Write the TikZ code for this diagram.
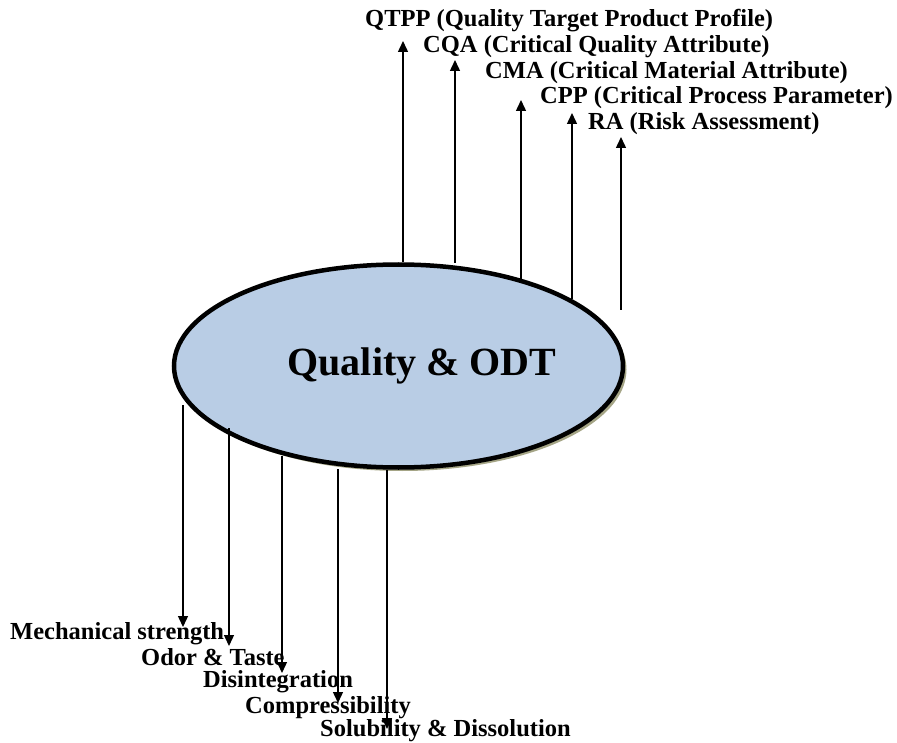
\documentclass[tikz,border=0pt]{standalone}
\usepackage{fontspec}
\setmainfont{Liberation Serif}
\usepackage{xcolor}
\usetikzlibrary{arrows.meta}
\usetikzlibrary{shapes.geometric}
\usetikzlibrary{shadows}

\definecolor{odtblue}{HTML}{B9CDE5}
\definecolor{odtshadow}{HTML}{8E8E68}

\tikzset{
	attr/.style={anchor=west,inner sep=0pt,font=\fontsize{24.5}{28}\selectfont\bfseries},
	link/.style={black,line width=1.4pt,-{Triangle[length=11pt,width=10pt]}},
}

\begin{document}
\begin{tikzpicture}[x=1pt,y=-1pt]
	\useasboundingbox (0,0) rectangle (897,743);
	% central ellipse
	\node[ellipse,draw=black,line width=4.5pt,fill=odtblue,inner sep=0pt,
		minimum width=449pt,minimum height=203pt,
		drop shadow={shadow xshift=3.5pt,shadow yshift=-3.5pt,fill=odtshadow,opacity=0.8}] (odt) at (398.5,366) {};
	\node[font=\fontsize{40}{44}\selectfont\bfseries] (title) at (422,366) {Quality \& ODT};
	%
	% design elements above
	\node[attr] (qtpp) at (365,21) {QTPP (Quality Target Product Profile)};
	\node[attr] (cqa) at (423,47) {CQA (Critical Quality Attribute)};
	\node[attr] (cma) at (485,73) {CMA (Critical Material Attribute)};
	\node[attr] (cpp) at (540,98) {CPP (Critical Process Parameter)};
	\node[attr] (ra) at (588,124) {RA (Risk Assessment)};
	\coordinate (qtpp-in) at (403,262);
	\coordinate (cqa-in) at (455,263);
	\coordinate (cma-in) at (521,279);
	\coordinate (cpp-in) at (572,299);
	\coordinate (ra-in) at (621,310);
	\coordinate (qtpp-tip) at (403,41);
	\coordinate (cqa-tip) at (455,60);
	\coordinate (cma-tip) at (521,100);
	\coordinate (cpp-tip) at (572,113);
	\coordinate (ra-tip) at (621,137);
	\draw[link] (qtpp-in) -- (qtpp-tip);
	\draw[link] (cqa-in) -- (cqa-tip);
	\draw[link] (cma-in) -- (cma-tip);
	\draw[link] (cpp-in) -- (cpp-tip);
	\draw[link] (ra-in) -- (ra-tip);
	%
	% tablet properties below
	\node[attr] (mech) at (10,634) {Mechanical strength};
	\node[attr] (odor) at (141,657) {Odor \& Taste};
	\node[attr] (disint) at (203,682) {Disintegration};
	\node[attr] (compr) at (245,708) {Compressibility};
	\node[attr] (solub) at (320,731) {Solubility \& Dissolution};
	\coordinate (mech-out) at (183,405);
	\coordinate (odor-out) at (229,428);
	\coordinate (disint-out) at (282,456);
	\coordinate (compr-out) at (338,469);
	\coordinate (solub-out) at (387,470);
	\coordinate (mech-tip) at (183,627);
	\coordinate (odor-tip) at (229,646);
	\coordinate (disint-tip) at (282,673);
	\coordinate (compr-tip) at (338,703);
	\coordinate (solub-tip) at (387,729);
	\draw[link] (mech-out) -- (mech-tip);
	\draw[link] (odor-out) -- (odor-tip);
	\draw[link] (disint-out) -- (disint-tip);
	\draw[link] (compr-out) -- (compr-tip);
	\draw[link] (solub-out) -- (solub-tip);
\end{tikzpicture}
\end{document}
